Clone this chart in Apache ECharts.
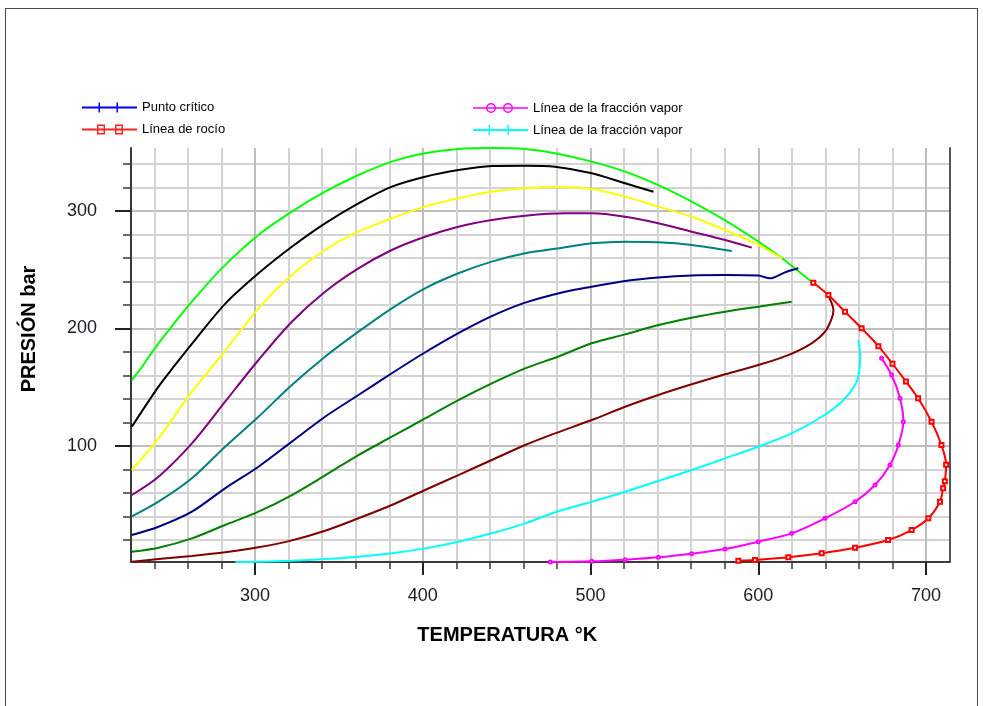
<!DOCTYPE html>
<html><head><meta charset="utf-8">
<script src="https://cdn.jsdelivr.net/npm/echarts@6/dist/echarts.min.js"></script>
<style>
html,body{margin:0;padding:0;background:#fff;width:983px;height:706px;overflow:hidden}
#c{position:absolute;left:0;top:0;width:983px;height:706px}
#frame{position:absolute;left:5px;top:8px;width:973px;height:720px;border:1px solid #4a4a4a;box-sizing:border-box;pointer-events:none}
</style></head><body><div id="c"></div><div id="frame"></div>
<script>
// ---- axis extents & tick labels ----
const T_MIN = 226, T_MAX = 714;
const P_MIN = 1.3, P_MAX = 353.6;
const xMinorTicks = [240,260,280,300,320,340,360,380,400,420,440,460,480,500,520,540,560,580,600,620,640,660,680,700];
const xMajorTicks = [300,400,500,600,700];
const yMinorTicks = [20,40,60,80,100,120,140,160,180,200,220,240,260,280,300,320,340];
const yMajorTicks = [100,200,300];

// ---- curves [T (K), P (bar)] ----
const curvaVerde = [[226.5,156],[232.4,167],[237.4,177.5],[246.3,194.5],[262.3,222.8],[280.1,251.2],[302,279.6],[321.9,299.4],[341.7,316.4],[361.6,330.6],[381.5,342],[401.3,349.1],[421.2,352.8],[441.1,353.5],[461,352.8],[478.8,349.1],[500.7,342],[520.6,333.5],[540.4,322],[560.3,308],[580.2,292],[600,274],[614,260],[621.9,251],[631.8,239.8]];
const curvaNegra = [[226.5,116.4],[242.4,150.5],[252.3,169],[262.3,187],[282.1,221],[302,247],[321.9,269.6],[341.7,289.5],[361.6,306.5],[381.5,320.7],[401.3,329.2],[421.2,334.9],[441.1,338.3],[461,338.6],[478.8,337.7],[500.7,332.1],[520.6,323.6],[537.5,316.4]];
const curvaAmarilla = [[226.5,79.6],[242.4,106.5],[262.3,146.2],[280.1,177.4],[302,217.2],[321.9,245.5],[341.7,266.8],[361.6,282.4],[381.5,293.8],[401.3,303.7],[421.2,310.8],[441.1,316.4],[461,319.3],[480,320.5],[500.7,318.7],[520.6,312.2],[540.4,303.7],[560.3,295.1],[580.2,283.8],[600,271.1],[614,259.7]];
const curvaMorada = [[226.5,58.3],[242.4,73.9],[262.3,102.3],[282.1,137.7],[302,173.2],[321.9,205.8],[341.7,231.3],[361.6,251.2],[381.5,266.8],[401.3,278.1],[421.2,286.6],[441.1,292.3],[461,296],[484.8,298],[500.7,298],[520.6,295.1],[540.4,289.5],[560.3,282.4],[580.2,275.3],[596.1,268.8]];
const curvaTurquesa = [[226.5,40.1],[242.4,52.6],[262.3,72.5],[282.1,99.4],[302,124.9],[321.9,151.9],[341.7,176],[361.6,197.3],[381.5,217.2],[401.3,234.2],[421.2,247],[441.1,256.9],[461,264],[480,268],[500.7,272.5],[520.6,273.9],[540.4,273.4],[560.3,271.1],[584.2,266]];
const curvaAzul = [[226.5,24.3],[242.4,31.3],[262.3,44.1],[282.1,64],[302,82.4],[321.9,103.7],[341.7,124.9],[361.6,143.4],[381.5,161.9],[400,178.5],[421.2,196],[441.1,210.5],[461,222],[484.8,231.3],[500.7,235.6],[520.6,240.5],[540.4,243.5],[560.3,245.2],[580.2,245.5],[600,245],[607,242.7],[615.9,247.8],[623.9,251.2]];
const curvaVerdeOscura = [[226.5,10],[242.4,13.4],[262.3,21.4],[282.1,32.8],[302,44.1],[321.9,58.3],[341.7,75],[361.6,92.3],[381.5,107.9],[401.3,123.5],[421.2,139.1],[441.1,153.3],[461,166.1],[480.5,176],[500.7,187.4],[520.6,195],[540.4,203],[560.3,209.2],[580.2,214.3],[600,218.6],[619.9,222.8]];
const curvaGranate = [[226.5,1.5],[242.4,3.8],[262.3,6.4],[282.1,9.5],[302,13.8],[321.9,19.7],[341.7,27.9],[361.6,38.5],[381.5,49.8],[401.3,62.6],[421.2,75.3],[441.1,88.1],[461,100.9],[478.8,110.8],[500.7,122.1],[520.6,133.4],[540.4,143.4],[560.3,152.5],[580.2,161],[600,168.9],[617.9,177.4],[631.8,187.4],[639.8,197.3],[643.8,208.7],[644.8,215.7],[643.4,222.8],[641.4,228.5]];
const curvaCian = [[288.1,1],[302,1.5],[321.9,2.4],[341.7,3.8],[361.6,5.8],[381.5,8.7],[401.3,12.9],[421.2,18.6],[441.1,25.7],[461,34.2],[478.8,43.6],[500.7,52.6],[520.6,61.1],[540.4,70.2],[560.3,79.6],[580.2,89.5],[600,99.4],[619.9,110.7],[637.8,124.9],[649.8,137.7],[657.7,151.9],[660.1,163.2],[660.7,177.4],[659.7,190.2]];
const curvaMagenta = [[476,1.3],[500.7,1.9],[520.6,3.3],[540.4,5.3],[560.3,8.4],[580.2,12.3],[600,18.6],[619.9,25.7],[639.8,38.5],[657.7,52.6],[669.6,66.8],[678.5,83.8],[683.5,100.9],[686.5,120.7],[684.5,140.6],[679.5,160.4],[673.5,174.6]];
const lineaRocio = [[632.8,238.9],[641.8,228.5],[651.7,214.3],[661.6,200.2],[671.6,185],[680,170],[688,155],[695.3,140.6],[703.3,120.7],[709.2,100.9],[712,84],[711.2,70],[710.2,64],[708.3,52.6],[701.4,38.5],[691.4,28.5],[677.4,20],[657.7,13.4],[637.8,8.7],[617.9,5.3],[598,3],[588.1,2.4]];

const FONT = '"Liberation Sans", Arial, sans-serif';

function serie(name, data, color, extra) {
  return Object.assign({
    name: name, type: 'line', data: data, xAxisIndex: 0, yAxisIndex: 0,
    showSymbol: false, symbol: 'none', smooth: 0.3, animation: false,
    lineStyle: { color: color, width: 2 }, itemStyle: { color: color }, z: 3
  }, extra || {});
}

const series = [
  serie('verde', curvaVerde, '#00ff00'),
  serie('negra', curvaNegra, '#000000'),
  serie('amarilla', curvaAmarilla, '#ffff00'),
  serie('morada', curvaMorada, '#800080'),
  serie('turquesa', curvaTurquesa, '#008080'),
  serie('Punto crítico', curvaAzul, '#000080'),
  serie('verdeoscura', curvaVerdeOscura, '#008000'),
  serie('granate', curvaGranate, '#800000'),
  serie('Línea de la fracción vapor (2)', curvaCian, '#00ffff'),
  serie('Línea de la fracción vapor', curvaMagenta, '#ff00ff', {showSymbol:true, symbol:'emptyCircle', symbolSize:3}),
  serie('Línea de rocío', lineaRocio, '#ff0000', {showSymbol:true, symbol:'emptyRect', symbolSize:4}),
];

const iconPC = 'path://M0,4H55V6H0Z M16.5,0H18V10H16.5Z M34.5,0H36V10H34.5Z';
const iconRocio = 'path://M0,4H55V6H0Z M15,0H23V10H15Z M16.5,1.5V8.5H21.5V1.5Z M33,0H41V10H33Z M34.5,1.5V8.5H39.5V1.5Z';
const iconFrac = 'path://M0,4.2H55V5.8H0Z M13,5A5,5 0 1,1 23,5A5,5 0 1,1 13,5Z M14.5,5A3.5,3.5 0 1,0 21.5,5A3.5,3.5 0 1,0 14.5,5Z M30,5A5,5 0 1,1 40,5A5,5 0 1,1 30,5Z M31.5,5A3.5,3.5 0 1,0 38.5,5A3.5,3.5 0 1,0 31.5,5Z';
const iconCian = 'path://M0,4H55V6H0Z M15.5,0H17V10H15.5Z M34.5,0H36V10H34.5Z';

const legendText = { fontSize: 13, lineHeight: 13, color: '#000', fontFamily: FONT };
const legendBase = { orient: 'vertical', itemWidth: 55, itemHeight: 10, itemGap: 9, padding: 0, selectedMode: false,
  textStyle: legendText, formatter: function (n) { return n.replace(' (2)', ''); } };

const labelStyle = { fontSize: 18, color: '#1c1c24', fontFamily: FONT };

const option = {
  animation: false,
  backgroundColor: '#ffffff',
  grid: { left: 131, right: 33.5, top: 148, bottom: 144, containLabel: false },
  legend: [
    Object.assign({}, legendBase, { left: 82, top: 101, data: [
      { name: 'Punto crítico', icon: iconPC, itemStyle: { color: '#0000ff', borderWidth: 0 } },
      { name: 'Línea de rocío', icon: iconRocio, itemStyle: { color: '#ff2020', borderWidth: 0 } } ] }),
    Object.assign({}, legendBase, { left: 473, top: 101.5, data: [
      { name: 'Línea de la fracción vapor', icon: iconFrac, itemStyle: { color: '#ff00ff', borderWidth: 0 } },
      { name: 'Línea de la fracción vapor (2)', icon: iconCian, itemStyle: { color: '#00ffff', borderWidth: 0 } } ] })
  ],
  xAxis: [
    { type: 'value', min: T_MIN, max: T_MAX, position: 'bottom',
      axisLine: { show: true, onZero: false, lineStyle: { color: '#3a3a3a', width: 2 } },
      axisTick: { show: true, customValues: xMinorTicks, length: 7, lineStyle: { color: '#3a3a3a', width: 1.5 } },
      axisLabel: { show: false },
      splitLine: { show: true, lineStyle: { color: '#d3d3d3', width: 2 } } },
    { type: 'value', min: T_MIN, max: T_MAX, position: 'bottom',
      axisLine: { show: false },
      axisTick: { show: true, customValues: xMajorTicks, length: 13, lineStyle: { color: '#222', width: 2 } },
      axisLabel: { show: true, customValues: xMajorTicks, margin: 25, ...labelStyle },
      splitLine: { show: true, lineStyle: { color: '#bdbdbd', width: 2 } },
      name: 'TEMPERATURA °K', nameLocation: 'middle', nameGap: 63,
      nameTextStyle: { fontSize: 20, fontWeight: 'bold', color: '#000', fontFamily: FONT, padding: [0, 66, 0, 0] } }
  ],
  yAxis: [
    { type: 'value', min: P_MIN, max: P_MAX, position: 'left',
      axisLine: { show: true, onZero: false, lineStyle: { color: '#3a3a3a', width: 2 } },
      axisTick: { show: true, customValues: yMinorTicks, length: 8, lineStyle: { color: '#3a3a3a', width: 1.5 } },
      axisLabel: { show: false },
      splitLine: { show: true, lineStyle: { color: '#d3d3d3', width: 2 } } },
    { type: 'value', min: P_MIN, max: P_MAX, position: 'left',
      axisLine: { show: false },
      axisTick: { show: true, customValues: yMajorTicks, length: 16, lineStyle: { color: '#222', width: 2 } },
      axisLabel: { show: true, customValues: yMajorTicks, margin: 34, ...labelStyle },
      splitLine: { show: true, lineStyle: { color: '#bdbdbd', width: 2 } },
      name: 'PRESIÓN bar', nameLocation: 'middle', nameGap: 92,
      nameTextStyle: { fontSize: 20, fontWeight: 'bold', color: '#000', fontFamily: FONT, padding: [0, 0, 0, 52] } },
    { type: 'value', min: P_MIN, max: P_MAX, position: 'right',
      axisLine: { show: true, onZero: false, lineStyle: { color: '#555', width: 2 } },
      axisTick: { show: false }, axisLabel: { show: false }, splitLine: { show: false } }
  ],
  series: series
};

const chart = echarts.init(document.getElementById('c'), null, { renderer: 'canvas' });
chart.setOption(option);
</script></body></html>
